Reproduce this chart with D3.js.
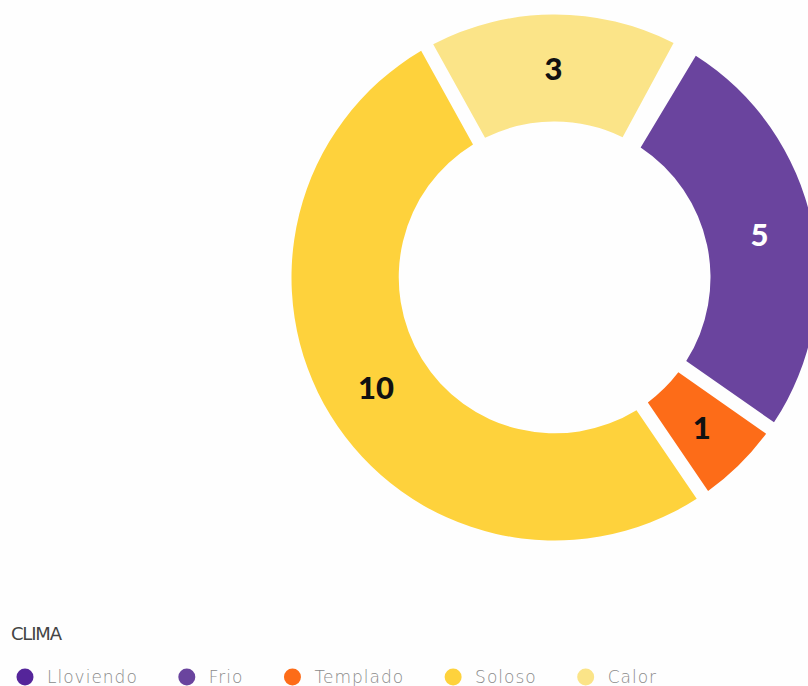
<!DOCTYPE html>
<html>
<head>
<meta charset="utf-8">
<script src="https://cdn.jsdelivr.net/npm/d3@7"></script>
<style>
  html, body { margin: 0; padding: 0; background: #fefefe; overflow: hidden; }
  svg { display: block; }
</style>
</head>
<body>
<svg id="chart" width="808" height="686"></svg>
<script>
// Weather counts
const categories = ["Lloviendo", "Frio", "Templado", "Soloso", "Calor"];
const values = [0, 5, 1, 10, 3];
const colors = ["#55259a", "#6a449e", "#fd6c18", "#fed23c", "#fbe488"];
const labelColors = ["#111", "#ffffff", "#111", "#111", "#111"];
const legendTitle = "CLIMA";

const svg = d3.select("#chart");
const cx = 554.5, cy = 277.5;
const outerR = 263, innerR = 156;

const data = categories.map((c, i) => ({ name: c, value: values[i], color: colors[i], labelColor: labelColors[i] }));

const pie = d3.pie()
  .sort(null)
  .value(d => d.value)
  .startAngle(0.496)
  .endAngle(0.496 + 2 * Math.PI)
  .padAngle(0.045);

const arc = d3.arc().innerRadius(innerR).outerRadius(outerR);

const g = svg.append("g").attr("transform", `translate(${cx},${cy})`);
const arcs = pie(data).filter(d => d.data.value > 0);

g.selectAll("path.slice")
  .data(arcs)
  .join("path")
  .attr("class", "slice")
  .attr("d", arc)
  .attr("fill", d => d.data.color);

g.selectAll("text.val")
  .data(arcs)
  .join("text")
  .attr("class", "val")
  .attr("transform", d => `translate(${arc.centroid(d)})`)
  .attr("text-anchor", "middle")
  .attr("dominant-baseline", "central")
  .attr("font-family", "Lato, 'DejaVu Sans', sans-serif")
  .attr("font-weight", 900)
  .attr("font-size", 31)
  .attr("fill", d => d.data.labelColor)
  .text(d => d.data.value);

// Legend
svg.append("text")
  .attr("x", 11)
  .attr("y", 640)
  .attr("font-family", "'DejaVu Sans', sans-serif")
  .attr("font-size", 18)
  .attr("letter-spacing", -1.2)
  .attr("fill", "#444")
  .text(legendTitle);

const legend = svg.append("g");
let x = 25;
data.forEach(d => {
  legend.append("circle")
    .attr("cx", x)
    .attr("cy", 677)
    .attr("r", 8.5)
    .attr("fill", d.color);
  const t = legend.append("text")
    .attr("x", x + 22)
    .attr("y", 683)
    .attr("font-family", "'DejaVu Sans', sans-serif")
    .attr("font-weight", 300)
    .attr("font-size", 17)
    .attr("letter-spacing", 1)
    .attr("fill", "#8a8a8a")
    .text(d.name);
  const w = t.node().getComputedTextLength();
  x = x + 22 + w + 49;
});
</script>
</body>
</html>
